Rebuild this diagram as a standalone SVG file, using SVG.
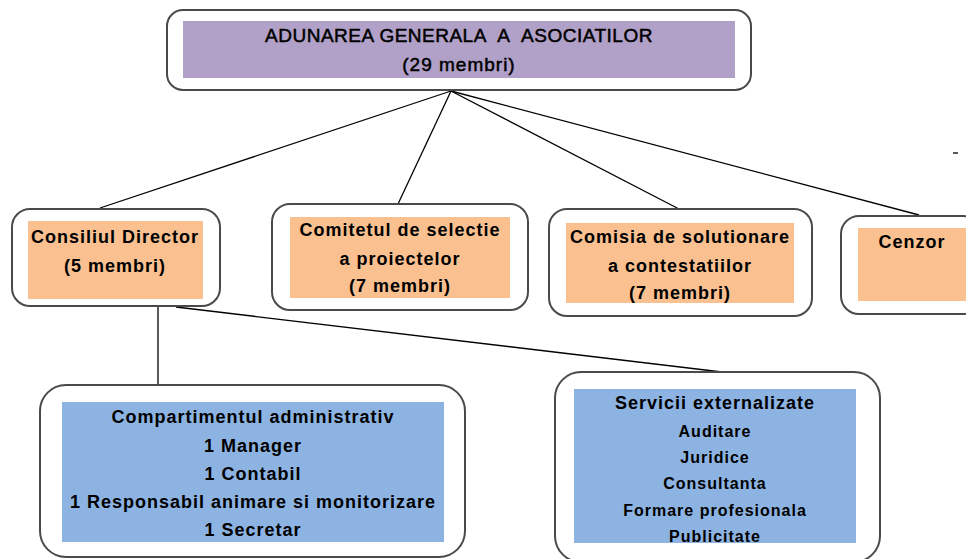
<svg xmlns="http://www.w3.org/2000/svg" width="966" height="559" viewBox="0 0 966 559">
<style>
.frame{fill:#fff;stroke:#4a4a4a;stroke-width:2}
.purple{fill:#B1A0C7}
.orange{fill:#FAC090}
.blue{fill:#8DB3E2}
text{font-family:"Liberation Sans",Arial,sans-serif;fill:#000;text-anchor:middle}
.t{font-size:18px;font-weight:bold;letter-spacing:1px}
.s{font-size:16px;font-weight:bold;letter-spacing:1px}
.h{font-size:19px;font-weight:normal;stroke:#000;stroke-width:0.5;letter-spacing:0.5px}
.h2{font-size:19px;font-weight:normal;stroke:#000;stroke-width:0.5;letter-spacing:1px}
.conn line{stroke:#000;stroke-width:1.3}
</style>
<rect width="966" height="559" fill="#fff"/>
<g id="connectors" class="conn">
<line x1="451" y1="91" x2="100" y2="208"/>
<line x1="451" y1="91" x2="398" y2="204"/>
<line x1="451" y1="91" x2="679" y2="209"/>
<line x1="451" y1="91" x2="919" y2="215"/>
<line x1="158" y1="306" x2="158" y2="386"/>
<line x1="176" y1="307" x2="722" y2="372"/>
<line x1="953" y1="153" x2="958" y2="153"/>
</g>
<g id="adunarea">
<rect class="frame" x="167" y="10" width="584" height="80" rx="16"/>
<rect class="purple" x="183" y="21" width="552" height="57"/>
<text class="h" x="459" y="42">ADUNAREA GENERALA&#160; A&#160; ASOCIATILOR</text>
<text class="h2" x="459" y="71">(29 membri)</text>
</g>
<g id="consiliul">
<rect class="frame" x="12" y="209" width="208" height="97" rx="18"/>
<rect class="orange" x="28" y="221" width="175" height="78"/>
<text class="t" x="115" y="243">Consiliul Director</text>
<text class="t" x="115" y="272">(5 membri)</text>
</g>
<g id="comitetul">
<rect class="frame" x="272" y="204" width="256" height="106" rx="18"/>
<rect class="orange" x="290" y="217" width="220" height="81"/>
<text class="t" x="400" y="236">Comitetul de selectie</text>
<text class="t" x="400" y="265">a proiectelor</text>
<text class="t" x="400" y="292">(7 membri)</text>
</g>
<g id="comisia">
<rect class="frame" x="549" y="209" width="263" height="107" rx="18"/>
<rect class="orange" x="566" y="223" width="228" height="80"/>
<text class="t" x="680" y="243">Comisia de solutionare</text>
<text class="t" x="680" y="272">a contestatiilor</text>
<text class="t" x="680" y="299">(7 membri)</text>
</g>
<g id="cenzor">
<rect class="frame" x="841" y="216" width="140" height="98" rx="18"/>
<rect class="orange" x="858" y="228" width="108" height="73"/>
<text class="t" x="912" y="248">Cenzor</text>
</g>
<g id="compartimentul">
<rect class="frame" x="40" y="385" width="425" height="172" rx="26"/>
<rect class="blue" x="62" y="402" width="382" height="140"/>
<text class="t" x="253" y="423">Compartimentul administrativ</text>
<text class="t" x="253" y="452">1 Manager</text>
<text class="t" x="253" y="480">1 Contabil</text>
<text class="t" x="253" y="508">1 Responsabil animare si monitorizare</text>
<text class="t" x="253" y="536">1 Secretar</text>
</g>
<g id="servicii">
<rect class="frame" x="555" y="372" width="325" height="190" rx="26"/>
<rect class="blue" x="574" y="389" width="282" height="154"/>
<text class="t" x="715" y="409">Servicii externalizate</text>
<text class="s" x="715" y="437">Auditare</text>
<text class="s" x="715" y="463">Juridice</text>
<text class="s" x="715" y="489">Consultanta</text>
<text class="s" x="715" y="516">Formare profesionala</text>
<text class="s" x="715" y="542">Publicitate</text>
</g>
</svg>
